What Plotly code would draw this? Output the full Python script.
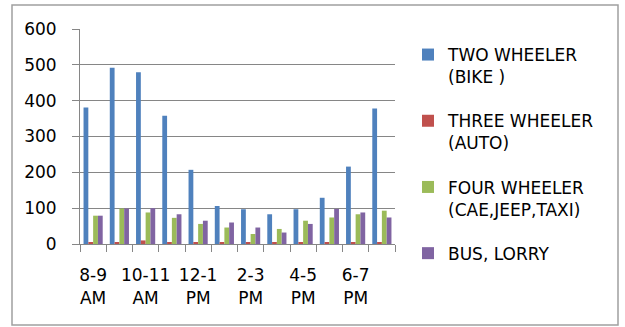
import plotly.graph_objects as go

categories = ["8-9 AM", "9-10 AM", "10-11 AM", "11-12 AM", "12-1 PM", "1-2 PM",
              "2-3 PM", "3-4 PM", "4-5 PM", "5-6 PM", "6-7 PM", "7-8 PM"]
tick_text = ["8-9<br>AM", "", "10-11<br>AM", "", "12-1<br>PM", "",
             "2-3<br>PM", "", "4-5<br>PM", "", "6-7<br>PM", ""]

two_wheeler = [381, 492, 479, 358, 207, 106, 97, 83, 97, 129, 216, 378]
three_wheeler = [5, 5, 10, 5, 5, 5, 5, 5, 5, 5, 5, 5]
four_wheeler = [79, 99, 88, 73, 56, 46, 28, 42, 65, 74, 83, 93]
bus_lorry = [79, 99, 100, 83, 65, 60, 46, 32, 56, 98, 88, 74]

series = [
    ("TWO WHEELER<br>(BIKE )", two_wheeler, "#4F81BD"),
    ("THREE WHEELER<br>(AUTO)", three_wheeler, "#C0504D"),
    ("FOUR WHEELER<br>(CAE,JEEP,TAXI)", four_wheeler, "#9BBB59"),
    ("BUS, LORRY", bus_lorry, "#8064A2"),
]

FONT = "DejaVu Sans"
fig = go.Figure()
for i, (name, vals, col) in enumerate(series):
    fig.add_trace(go.Bar(x=categories, y=vals, name=name, marker_color=col,
                         marker_line_width=0, legendgroup=f"g{i}"))

W, H = 625, 327
L, R, T, B = 80, 230, 29, 83
pw, ph = W - L - R, H - T - B

fig.update_layout(
    width=W, height=H,
    margin=dict(l=L, r=R, t=T, b=B, autoexpand=False),
    paper_bgcolor="white", plot_bgcolor="white",
    barmode="group", bargap=0.27, bargroupgap=0,
    font=dict(family=FONT, size=16, color="#000000"),
    legend=dict(x=(408 - L) / pw, xanchor="left", y=1 - (37 - T) / ph, yanchor="top",
                valign="top", traceorder="grouped", tracegroupgap=19, maxheight=300,
                font=dict(family=FONT, size=17, color="#000000"),
                itemwidth=30, bgcolor="rgba(0,0,0,0)"),
    xaxis=dict(type="category", tickmode="array", tickvals=categories, ticktext=tick_text,
               tickson="boundaries", ticks="outside", ticklen=7, tickcolor="#868686",
               tickangle=0, ticklabelstandoff=16,
               showline=True, linecolor="#868686", linewidth=1, showgrid=False,
               tickfont=dict(family=FONT, size=17, color="#000000")),
    yaxis=dict(range=[0, 600], dtick=100, showgrid=True, gridcolor="#868686", gridwidth=1,
               showline=True, linecolor="#868686", linewidth=1, ticks="outside", ticklen=7,
               tickcolor="#868686", zeroline=False, ticklabelstandoff=12,
               tickfont=dict(family=FONT, size=17, color="#000000")),
    shapes=[dict(type="rect", xref="paper", yref="paper",
                 x0=(12 - L) / pw, x1=(618 - L) / pw,
                 y0=1 - (325 - T) / ph, y1=1 - (5 - T) / ph,
                 line=dict(color="#A0A0A0", width=1.5), fillcolor="rgba(0,0,0,0)", layer="below")],
)
fig.write_html("out.html", config={"displayModeBar": False},
               post_script="document.body.style.margin='0px';")
